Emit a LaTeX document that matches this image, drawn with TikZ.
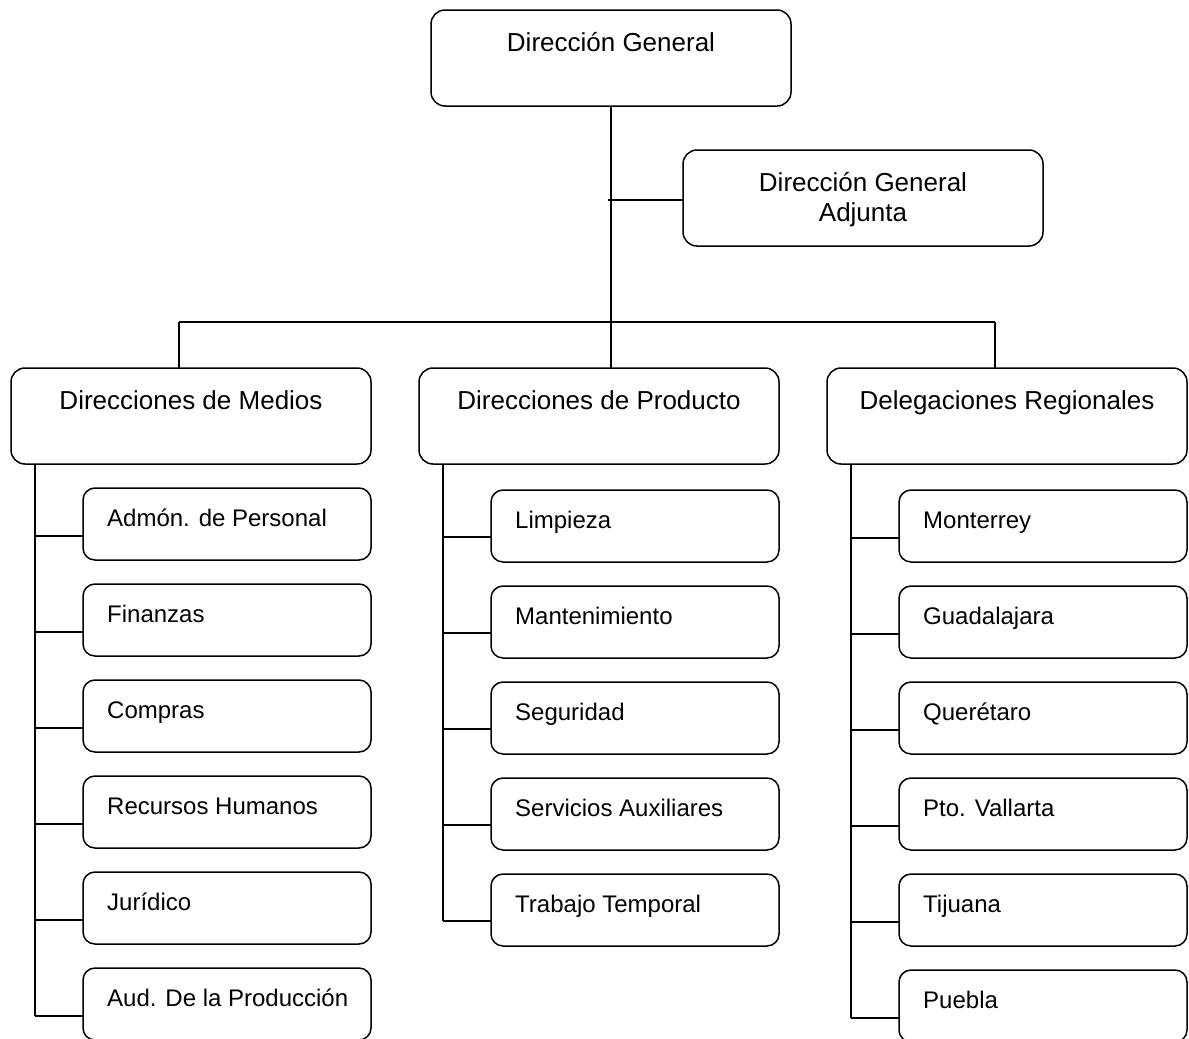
\documentclass[tikz,border=0pt]{standalone}
\usepackage{fontspec}
\setmainfont{Liberation Sans}
\begin{document}
\begin{tikzpicture}[x=1pt,y=-1pt,
  bigbox/.style={draw, line width=1.5pt, rounded corners=14pt, outer sep=0pt,
    inner sep=0pt, minimum width=360pt, minimum height=96pt, anchor=north west},
  subbox/.style={draw, line width=1.5pt, rounded corners=12pt, outer sep=0pt,
    inner sep=0pt, minimum width=288pt, minimum height=72pt, anchor=north west},
  bigtext/.style={inner sep=0pt, anchor=base, font=\fontsize{26}{30}\selectfont},
  subtext/.style={inner sep=0pt, anchor=base west, font=\fontsize{24}{28}\selectfont},
  link/.style={line width=1.5pt}]
\useasboundingbox (0,0) rectangle (1189,1039);
\clip (0,0) rectangle (1189,1039);

% top level
\node[bigbox] (dg) at (431,10) {};
\node[bigtext] (dgt) at ([yshift=-41pt]dg.north) {Dirección General};
\node[bigbox] (dga) at (683,150) {};
\node[bigtext] (dgat1) at ([yshift=-41pt]dga.north) {Dirección General};
\node[bigtext] (dgat2) at ([yshift=-71pt]dga.north) {Adjunta};

% second level
\node[bigbox] (med) at (11,368) {};
\node[bigtext] (medt) at ([yshift=-41pt]med.north) {Direcciones de Medios};
\node[bigbox] (prod) at (419,368) {};
\node[bigtext] (prodt) at ([yshift=-41pt]prod.north) {Direcciones de Producto};
\node[bigbox] (reg) at (827,368) {};
\node[bigtext] (regt) at ([yshift=-41pt]reg.north) {Delegaciones Regionales};

% main trunk and distribution bar
\coordinate (trunk) at (611,107);
\coordinate (bar) at (611,322);
\coordinate (barL) at (179,322);
\coordinate (barR) at (995,322);
\coordinate (adjj) at (608,200);
\draw[link] (trunk) -- (trunk |- prod.north);
\draw[link] (adjj) -- (adjj -| dga.west);
\draw[link] (barL) -- (barR);
\draw[link] (barL) -- (barL |- med.north);
\draw[link] (barR) -- (barR |- reg.north);

% Direcciones de Medios
\coordinate (ms) at (35,464);
\foreach \t [count=\i] in {Admón. de Personal, Finanzas, Compras, Recursos Humanos, Jurídico, Aud. De la Producción}{
  \node[subbox] (m\i) at (83,{488+96*(\i-1)}) {};
  \node[subtext] (mt\i) at ([xshift=24pt,yshift=-38pt]m\i.north west) {\t};
  \coordinate (mc\i) at ([yshift=-48pt]m\i.north west);
  \draw[link] (ms |- mc\i) -- (mc\i);
}
\draw[link] (ms) -- (ms |- mc6);

% Direcciones de Producto
\coordinate (ps) at (443,464);
\foreach \t [count=\i] in {Limpieza, Mantenimiento, Seguridad, Servicios Auxiliares, Trabajo Temporal}{
  \node[subbox] (p\i) at (491,{490+96*(\i-1)}) {};
  \node[subtext] (pt\i) at ([xshift=24pt,yshift=-38pt]p\i.north west) {\t};
  \coordinate (pc\i) at ([yshift=-47pt]p\i.north west);
  \draw[link] (ps |- pc\i) -- (pc\i);
}
\draw[link] (ps) -- (ps |- pc5);

% Delegaciones Regionales
\coordinate (rs) at (851,464);
\foreach \t [count=\i] in {Monterrey, Guadalajara, Querétaro, Pto. Vallarta, Tijuana, Puebla}{
  \node[subbox] (r\i) at (899,{490+96*(\i-1)}) {};
  \node[subtext] (rt\i) at ([xshift=24pt,yshift=-38pt]r\i.north west) {\t};
  \coordinate (rc\i) at ([yshift=-48pt]r\i.north west);
  \draw[link] (rs |- rc\i) -- (rc\i);
}
\draw[link] (rs) -- (rs |- rc6);
\end{tikzpicture}
\end{document}
